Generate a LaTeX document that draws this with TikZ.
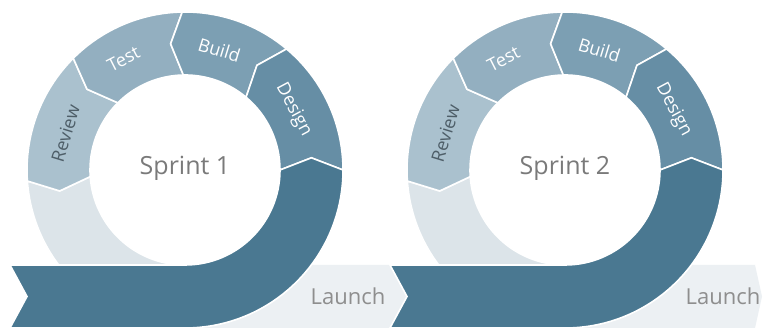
\documentclass[tikz,border=0pt]{standalone}
\usepackage{fontspec}
\setmainfont{Open Sans}
\definecolor{cDark}{HTML}{4A7891}
\definecolor{cDesign}{HTML}{668EA5}
\definecolor{cBuild}{HTML}{7C9FB3}
\definecolor{cTest}{HTML}{93AFC0}
\definecolor{cReview}{HTML}{AAC1CE}
\definecolor{cLight}{HTML}{DCE4E9}
\definecolor{cLaunch}{HTML}{ECF0F3}
\definecolor{cSprint}{HTML}{7A7A7A}
\definecolor{cReviewTxt}{HTML}{4E5E68}
\def\Rout{158pt}
\def\Rin{95pt}
\def\Rmid{127pt}
\def\Tip{5.5}
\newcommand{\ringseg}[3]{%
  \path[seg, fill=#3] (#1:\Rout) arc[start angle=#1, end angle=#2, radius=\Rout]
    -- ({#2+\Tip}:\Rmid) -- (#2:\Rin) arc[start angle=#2, end angle=#1, radius=\Rin]
    -- ({#1+\Tip}:\Rmid) -- cycle;}
\tikzset{
  seg/.style={draw=white, line width=1.6pt, line join=miter},
  lbl/.style={font=\fontsize{18}{21}\selectfont, text=white, inner sep=0pt},
  sprint/.style={font=\fontsize{25}{29}\selectfont, text=cSprint, inner sep=0pt},
  launch/.style={font=\fontsize{22}{26}\selectfont, text=cSprint!85, inner sep=0pt}
}
\begin{document}
\begin{tikzpicture}[x=1pt, y=1pt]
\path[fill=white] (0,0) rectangle (763,328);
\useasboundingbox (0,0) rectangle (763,328);
\foreach \k/\sx/\le/\lt/\lx in {1/0/205/222/163, 2/380/190/197/158}{
\begin{scope}[shift={(185+\sx,158)}]
  % launch band
  \path[fill=cLaunch] (0,-95) -- (\le,-95) -- (\lt,-126.5) -- (\le,-158) -- (0,-158) -- cycle;
  \node[launch] (launch\k) at (\lx,-126) {Launch};
  % light ring
  \path[seg, fill=cLight] (184:\Rout) -- ({184+\Tip}:\Rmid) -- (184:\Rin)
     arc[start angle=184, end angle=270, radius=\Rin] -- (270:\Rout)
     arc[start angle=270, end angle=184, radius=\Rout] -- cycle;
  % phase segments
  \ringseg{135}{184}{cReview}
  \ringseg{91}{135}{cTest}
  \ringseg{50}{91}{cBuild}
  \ringseg{0}{50}{cDesign}
  % dark band with ribbon
  \path[seg, fill=cDark] (0:\Rout) -- (\Tip:\Rmid) -- (0:\Rin)
     arc[start angle=0, end angle=-90, radius=\Rin]
     -- (-175,-95) -- (-158,-126.5) -- (-175,-158) -- (0,-158)
     arc[start angle=-90, end angle=0, radius=\Rout] -- cycle;
  % labels
  \node[lbl, text=cReviewTxt, rotate=73] (review\k) at (163:125) {Review};
  \node[lbl, rotate=27] (test\k) at (119:127) {Test};
  \node[lbl, rotate=-17] (build\k) at (74:125) {Build};
  \node[lbl, rotate=-62] (design\k) at (29:124) {Design};
  \node[sprint] (sprint\k) at (0,2) {Sprint \k};
\end{scope}
}
\end{tikzpicture}
\end{document}
